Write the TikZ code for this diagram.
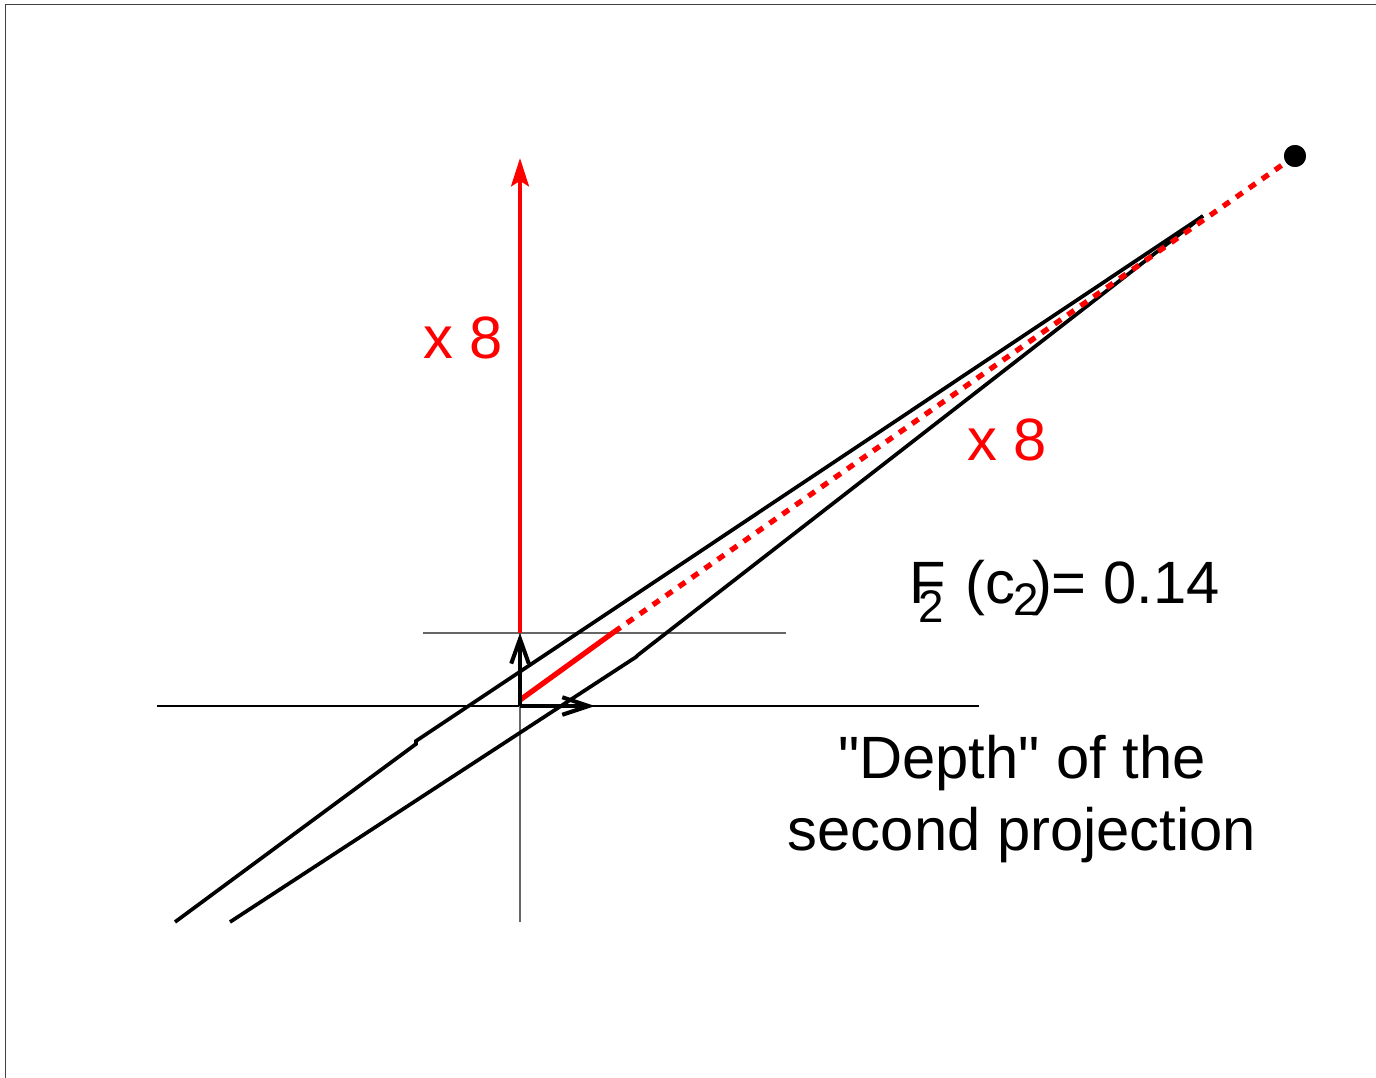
\documentclass[tikz,border=0pt]{standalone}
\usepackage{fontspec}
\newfontfamily\labelfont{Liberation Sans}
\usepackage{xcolor}
\usetikzlibrary{arrows.meta,positioning}

\tikzset{
  frameline/.style={draw=black!75, line width=0.9pt},
  guide/.style={draw=black!60, line width=0.6pt},
  cone/.style={draw=black, line width=2.1pt},
  bigtext/.style={font=\labelfont\fontsize{34}{41}\selectfont, inner sep=0pt},
}

\begin{document}
\begin{tikzpicture}[x=0.02cm, y=-0.02cm]
\useasboundingbox (0,0) rectangle (1376,1078);
% Frame
\draw[frameline] (5.5,1078) -- (5.5,4.5) -- (1376,4.5);
% Guide lines
\draw[draw=black, line width=0.6pt] (157,706) -- (979,706);
\draw[guide] (423,633) -- (786,633);
\draw[guide] (520,633) -- (520,922);
% Points
\coordinate (o) at (520,706);
\coordinate (up) at (520,633);
\coordinate (right) at (595,706);
\coordinate (top) at (520,158);
\coordinate (redstart) at (520,700);
\coordinate (redmid) at (614,632);
\coordinate (apex) at (1203,216);
\node[circle, fill=black, minimum size=12.5pt, inner sep=0pt] (eye) at (1295,156) {};
% Cone lines
\coordinate (a1) at (175,922);
\coordinate (a2) at (416,744);
\coordinate (a3) at (416,741);
\coordinate (b1) at (230,922);
\coordinate (b2) at (636,657);
\coordinate (b3) at (638,655);
\draw[cone] (a1) -- (a2) -- (a3) -- (apex);
\draw[cone] (b1) -- (b2) -- (b3) -- (apex);
% Red parts
\draw[red, line width=2.8pt, -{Stealth[length=16pt, width=10pt, inset=3pt]}] (up) -- (top);
\draw[red, line width=3pt] (redstart) -- (redmid);
\draw[red, line width=3pt, dash pattern=on 4.5pt off 4.5pt] (redmid) -- (eye.center);
\node[circle, fill=black, minimum size=12.5pt, inner sep=0pt] at (eye) {};
% Axes arrows
\draw[black, line width=2.3pt, -{Straight Barb[length=14pt, width=10pt]}] (o) -- (up);
\draw[black, line width=2.3pt, -{Straight Barb[length=15pt, width=10pt]}] (o) -- (right);
% Labels
\node[bigtext, text=red] (scaleup) at (463,338) {x 8};
\node[bigtext, text=red] (scaleray) at (1007,440) {x 8};
\node[bigtext, anchor=west] (fval) at (909,591) {F\kern-0.45em\raisebox{-0.32em}{\fontsize{26}{26}\selectfont 2}\kern0.35em (c\kern-0.02em\raisebox{-0.2em}{\fontsize{26}{26}\selectfont 2}\kern-0.12em)= 0.14};
\node[bigtext, align=center] (depth) at (1022,799) {"Depth" of the\\second projection};
\end{tikzpicture}
\end{document}
